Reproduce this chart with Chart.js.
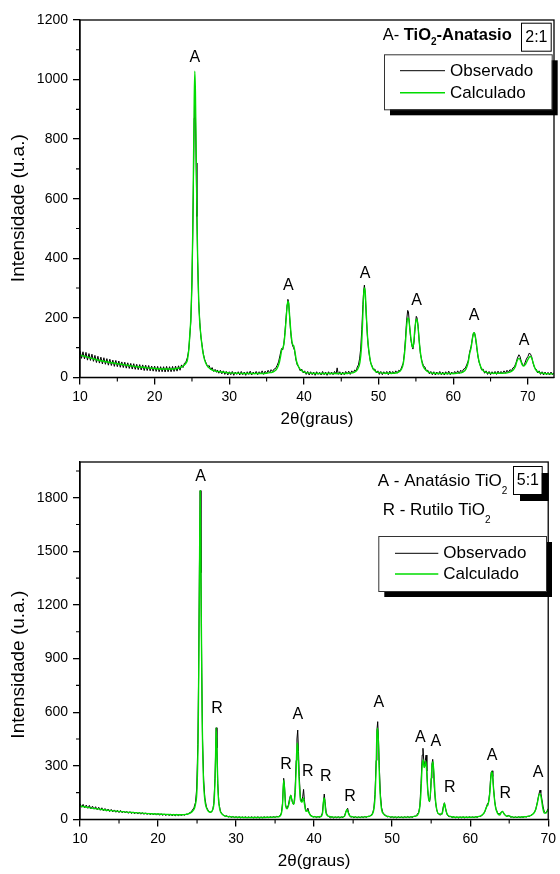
<!DOCTYPE html>
<html><head><meta charset="utf-8">
<script src="https://cdn.jsdelivr.net/npm/chart.js@4.4.1/dist/chart.umd.min.js"></script>
<style>
html,body{margin:0;padding:0;background:#fff;}
#wrap{position:relative;width:560px;height:874px;overflow:hidden;}
.box{position:absolute;left:0;width:560px;height:432px;}
</style></head><body>
<div id="wrap">
<div class="box" style="top:0"><canvas id="c1" width="560" height="432"></canvas></div>
<div class="box" style="top:442px"><canvas id="c2" width="560" height="432"></canvas></div>
</div>
<script>
// ---------- DATA: chart 1 (2:1) ----------
const topXTicks = [10,20,30,40,50,60,70];
const topXMinor = [15,25,35,45,55,65];
const topYTicks = [0,200,400,600,800,1000,1200];
const topYMinor = [100,300,500,700,900,1100];
const topXRange = [10,73.5];
const topYRange = [0,1200];

const topCalc = [[10,75],[11,68],[12,61],[13,55],[14,50],[15,46],[16,42],[17,38],[18,35],[19,32],[20,30],[21,28],[22,28],[23,30],[23.5,34],[24,42],[24.2,48],[24.4,60],[24.6,100],[24.7,140],[24.85,200],[25.0,330],[25.1,480],[25.2,700],[25.3,930],[25.38,1028],[25.46,960],[25.56,760],[25.66,560],[25.76,400],[25.9,260],[26.05,180],[26.2,140],[26.35,105],[26.5,80],[26.7,58],[27,40],[27.5,28],[28,22],[29,18],[30,15],[31,14],[32,13],[33,13],[34,13],[35,14],[35.5,16],[36,20],[36.4,30],[36.7,50],[36.9,75],[37.05,95],[37.2,100],[37.4,130],[37.6,190],[37.75,240],[37.85,255],[37.95,250],[38.1,200],[38.3,140],[38.5,110],[38.65,105],[38.8,85],[39,55],[39.3,35],[39.7,22],[40.2,16],[41,14],[42,13],[43,13],[44,13],[45,13],[46,14],[46.8,18],[47.2,28],[47.5,50],[47.7,100],[47.85,180],[47.95,250],[48.05,295],[48.15,300],[48.25,270],[48.4,190],[48.55,125],[48.7,90],[48.9,55],[49.2,32],[49.6,20],[50.2,16],[51,14],[52,14],[52.6,17],[53,25],[53.3,45],[53.55,100],[53.75,170],[53.9,200],[54.05,195],[54.2,160],[54.4,120],[54.55,100],[54.7,115],[54.85,160],[55.0,190],[55.12,195],[55.25,180],[55.45,120],[55.65,75],[55.9,42],[56.2,28],[56.7,18],[57.5,14],[59,13],[60.5,14],[61.3,18],[61.7,28],[62,50],[62.2,80],[62.4,100],[62.6,135],[62.75,150],[62.9,145],[63.1,115],[63.3,75],[63.55,45],[63.9,25],[64.5,16],[65.5,14],[66.5,14],[67.5,17],[68,24],[68.3,35],[68.55,55],[68.8,64],[69.0,58],[69.25,42],[69.45,38],[69.7,45],[70.0,60],[70.3,70],[70.5,66],[70.75,45],[71.0,28],[71.4,18],[72,14],[73,12],[73.5,12]];

const topObs = [[10,90],[10.2,64],[10.4,86],[10.6,62],[10.8,84],[11,58],[11.2,80],[11.4,57],[11.6,78],[11.8,54],[12,74],[12.2,50],[12.4,71],[12.6,48],[12.8,68],[13,45],[13.2,66],[13.4,44],[13.6,63],[13.8,41],[14,61],[14.2,40],[14.4,58],[14.6,37],[14.8,57],[15,36],[15.2,55],[15.4,34],[15.6,52],[15.8,33],[16,51],[16.2,31],[16.4,49],[16.6,30],[16.8,47],[17,28],[17.2,46],[17.4,27],[17.6,44],[17.8,26],[18,43],[18.2,25],[18.4,42],[18.6,23],[18.8,41],[19,23],[19.2,40],[19.4,22],[19.6,38],[19.8,21],[20,38],[20.2,20],[20.4,37],[20.6,19],[20.8,36],[21,19],[21.2,36],[21.4,18],[21.6,37],[21.8,19],[22,36],[22.2,19],[22.4,37],[22.6,20],[22.8,38],[23,21],[23.2,39],[23.4,24],[23.6,42],[23.8,33],[24,48],[24.2,52],[24.4,68],[24.55,90],[24.7,135],[24.85,190],[25.0,320],[25.1,470],[25.2,660],[25.3,870],[25.38,948],[25.46,900],[25.56,720],[25.66,540],[25.76,390],[25.9,255],[26.05,185],[26.2,135],[26.35,110],[26.5,82],[26.7,60],[26.9,48],[27.1,36],[27.3,40],[27.5,26],[27.7,33],[27.9,20],[28.1,27],[28.3,17],[28.4,25],[28.6,14],[28.8,24],[29,12],[29.2,22],[29.4,10],[29.6,20],[29.8,8],[30,19],[30.2,9],[30.4,20],[30.6,7],[30.8,18],[31,10],[31.2,19],[31.4,8],[31.6,20],[31.8,9],[32,18],[32.2,7],[32.4,19],[32.6,10],[32.8,21],[33,8],[33.2,18],[33.4,11],[33.6,20],[33.8,9],[34,19],[34.2,12],[34.4,22],[34.6,10],[34.8,21],[35,13],[35.2,24],[35.4,15],[35.6,26],[35.8,20],[36,28],[36.2,30],[36.4,40],[36.6,52],[36.8,75],[37.0,97],[37.15,92],[37.3,110],[37.45,150],[37.6,200],[37.75,245],[37.85,262],[37.95,250],[38.05,215],[38.2,160],[38.35,120],[38.5,105],[38.6,100],[38.75,90],[38.9,62],[39.1,42],[39.3,35],[39.5,22],[39.7,28],[39.9,15],[40.1,22],[40.3,10],[40.5,20],[40.7,8],[40.9,19],[41.1,9],[41.3,18],[41.5,7],[41.7,19],[41.9,10],[42.1,17],[42.3,8],[42.5,20],[42.7,9],[42.9,18],[43.1,7],[43.3,19],[43.5,10],[43.7,18],[43.9,9],[44.1,20],[44.3,11],[44.45,32],[44.6,10],[44.8,19],[45,8],[45.2,18],[45.4,9],[45.6,20],[45.8,11],[46,21],[46.2,10],[46.4,22],[46.6,15],[46.8,25],[47,22],[47.15,35],[47.3,42],[47.45,62],[47.6,95],[47.75,160],[47.9,245],[48.0,290],[48.1,310],[48.2,285],[48.35,205],[48.5,140],[48.65,95],[48.8,68],[48.95,48],[49.1,40],[49.3,26],[49.5,28],[49.7,15],[49.9,22],[50.1,10],[50.3,20],[50.5,9],[50.7,19],[50.9,11],[51.1,20],[51.3,9],[51.5,21],[51.7,11],[51.9,20],[52.1,12],[52.3,22],[52.5,14],[52.7,24],[52.9,22],[53.1,35],[53.3,48],[53.45,80],[53.6,130],[53.75,190],[53.9,225],[54.0,220],[54.15,175],[54.3,130],[54.45,108],[54.6,95],[54.75,118],[54.9,170],[55.05,205],[55.15,200],[55.3,170],[55.45,120],[55.6,80],[55.8,55],[56,40],[56.2,35],[56.4,22],[56.6,24],[56.8,12],[57,20],[57.2,9],[57.4,19],[57.6,8],[57.8,18],[58,10],[58.2,20],[58.4,9],[58.6,18],[58.8,8],[59,19],[59.2,10],[59.4,21],[59.6,9],[59.8,18],[60,11],[60.2,20],[60.4,12],[60.6,22],[60.8,13],[61,24],[61.2,19],[61.4,28],[61.6,30],[61.8,42],[62,55],[62.2,85],[62.4,105],[62.55,128],[62.7,148],[62.85,150],[63,130],[63.15,100],[63.3,72],[63.45,52],[63.6,42],[63.8,25],[64,28],[64.2,14],[64.4,22],[64.6,10],[64.8,20],[65,9],[65.2,19],[65.4,11],[65.6,20],[65.8,10],[66,21],[66.2,12],[66.4,20],[66.6,13],[66.8,22],[67,14],[67.2,24],[67.4,17],[67.6,26],[67.8,22],[68,32],[68.2,36],[68.4,48],[68.6,65],[68.8,76],[68.95,70],[69.1,55],[69.3,42],[69.45,40],[69.6,48],[69.8,62],[70.0,70],[70.2,82],[70.35,78],[70.5,70],[70.7,48],[70.9,32],[71.1,28],[71.3,15],[71.5,22],[71.7,10],[71.9,19],[72.1,8],[72.3,18],[72.5,9],[72.7,17],[72.9,8],[73.1,18],[73.3,9],[73.5,16]];

const topPeakText = ['A','A','A','A','A','A'];
const topPeakX = [25.4,37.9,48.2,55.1,62.8,69.5];
const topPeakY = [1075,309,350,259,208,124];

// ---------- DATA: chart 2 (5:1) ----------
const botXTicks = [10,20,30,40,50,60,70];
const botXMinor = [15,25,35,45,55,65];
const botYTicks = [0,300,600,900,1200,1500,1800];
const botYMinor = [150,450,750,1050,1350,1650,1950];
const botXRange = [10,70];
const botYRange = [0,2000];

const botCalc = [[10,75],[11,67],[12,60],[13,54],[14,49],[15,45],[16,41],[17,38],[18,35],[19,32],[20,30],[21,28],[22,26],[23,26],[23.6,28],[24.1,35],[24.5,50],[24.8,85],[25.0,180],[25.15,500],[25.3,1300],[25.4,1840],[25.5,1350],[25.65,600],[25.8,250],[26.0,110],[26.3,55],[26.7,40],[27.0,55],[27.2,110],[27.35,300],[27.45,513],[27.55,380],[27.7,150],[27.9,60],[28.2,30],[28.7,18],[29.5,14],[30.5,12],[31.5,11],[32.5,11],[33.5,11],[34.5,12],[35.3,14],[35.7,22],[35.95,80],[36.1,220],[36.2,180],[36.35,75],[36.55,60],[36.8,90],[37.0,135],[37.15,110],[37.35,85],[37.55,130],[37.7,280],[37.82,426],[37.92,400],[38.05,250],[38.25,110],[38.45,95],[38.62,120],[38.75,90],[38.95,45],[39.15,50],[39.3,40],[39.6,20],[40.2,14],[40.9,16],[41.1,40],[41.25,120],[41.35,110],[41.5,40],[41.8,18],[42.5,13],[43.5,13],[43.9,18],[44.1,45],[44.2,55],[44.35,40],[44.6,18],[45.5,13],[46.5,14],[47.2,20],[47.6,45],[47.8,120],[47.95,300],[48.05,480],[48.15,510],[48.25,420],[48.4,200],[48.6,70],[48.9,30],[49.3,18],[50.5,13],[52,13],[53,18],[53.4,35],[53.65,120],[53.85,300],[53.97,332],[54.1,290],[54.2,300],[54.32,326],[54.45,250],[54.6,140],[54.78,100],[54.95,170],[55.1,290],[55.22,323],[55.35,260],[55.5,140],[55.7,60],[56.0,30],[56.4,30],[56.6,75],[56.7,90],[56.85,60],[57.1,25],[57.6,15],[58.5,12],[59.5,12],[60.5,13],[61.3,18],[61.8,38],[62.1,70],[62.3,85],[62.5,140],[62.65,230],[62.75,267],[62.85,255],[63.0,170],[63.2,80],[63.5,35],[63.8,25],[64.0,40],[64.15,45],[64.35,30],[64.7,18],[65,20],[65.3,14],[66,13],[67,15],[67.8,22],[68.3,45],[68.6,90],[68.85,140],[68.97,142],[69.1,120],[69.3,65],[69.5,35],[69.7,35],[69.85,45],[70,58]];

const botObs = [[10,88],[10.2,68],[10.4,84],[10.6,65],[10.8,80],[11,62],[11.2,78],[11.4,59],[11.6,74],[11.8,57],[12,71],[12.2,54],[12.4,68],[12.6,51],[12.8,65],[13,48],[13.2,61],[13.4,46],[13.6,58],[13.8,44],[14,56],[14.2,42],[14.4,53],[14.6,40],[14.8,51],[15,38],[15.2,50],[15.4,37],[15.6,47],[15.8,36],[16,45],[16.2,34],[16.4,44],[16.6,33],[16.8,42],[17,31],[17.2,41],[17.4,30],[17.6,39],[17.8,29],[18,38],[18.2,28],[18.4,37],[18.6,27],[18.8,36],[19,26],[19.2,35],[19.4,25],[19.6,34],[19.8,24],[20,33],[20.2,23],[20.4,32],[20.6,22],[20.8,31],[21,21],[21.2,30],[21.4,21],[21.6,29],[21.8,20],[22,28],[22.2,20],[22.4,28],[22.6,21],[22.8,27],[23,22],[23.2,28],[23.4,23],[23.6,30],[23.8,28],[24,36],[24.2,40],[24.4,52],[24.6,65],[24.8,95],[24.95,170],[25.1,420],[25.2,800],[25.3,1400],[25.4,1840],[25.5,1380],[25.6,820],[25.7,450],[25.85,220],[26,120],[26.2,70],[26.4,52],[26.6,42],[26.8,40],[27,52],[27.15,90],[27.3,230],[27.45,513],[27.55,400],[27.65,200],[27.8,90],[28,45],[28.2,30],[28.4,24],[28.6,17],[28.8,21],[29,13],[29.2,18],[29.4,11],[29.6,16],[29.8,10],[30,15],[30.2,9],[30.4,15],[30.6,8],[30.8,14],[31,9],[31.2,15],[31.4,8],[31.6,14],[31.8,9],[32,15],[32.2,8],[32.4,14],[32.6,9],[32.8,15],[33,8],[33.2,14],[33.4,9],[33.6,15],[33.8,10],[34,14],[34.2,9],[34.4,15],[34.6,10],[34.8,16],[35,11],[35.2,17],[35.4,14],[35.6,20],[35.8,35],[35.95,90],[36.1,230],[36.2,190],[36.35,80],[36.5,60],[36.7,80],[36.85,115],[37.0,136],[37.1,120],[37.25,90],[37.4,85],[37.55,150],[37.7,330],[37.8,450],[37.9,500],[38.0,380],[38.1,240],[38.25,120],[38.4,100],[38.55,130],[38.65,168],[38.75,110],[38.9,55],[39.05,50],[39.2,63],[39.35,40],[39.5,25],[39.7,20],[39.9,13],[40.1,17],[40.3,10],[40.5,16],[40.7,11],[40.9,18],[41.05,35],[41.2,100],[41.3,142],[41.4,100],[41.55,40],[41.7,22],[41.9,15],[42.1,9],[42.3,15],[42.5,8],[42.7,14],[42.9,9],[43.1,15],[43.3,8],[43.5,14],[43.7,10],[43.9,20],[44.05,40],[44.2,55],[44.3,62],[44.4,40],[44.55,22],[44.7,12],[44.9,16],[45.1,9],[45.3,15],[45.5,8],[45.7,14],[45.9,9],[46.1,15],[46.3,10],[46.5,16],[46.7,11],[46.9,18],[47.1,16],[47.3,25],[47.5,35],[47.65,60],[47.8,140],[47.95,330],[48.05,500],[48.15,547],[48.25,450],[48.35,300],[48.5,140],[48.65,65],[48.8,40],[49,28],[49.2,22],[49.4,14],[49.6,18],[49.8,10],[50,15],[50.2,9],[50.4,14],[50.6,8],[50.8,15],[51,9],[51.2,14],[51.4,8],[51.6,15],[51.8,10],[52,16],[52.2,10],[52.4,15],[52.6,11],[52.8,18],[53,17],[53.2,28],[53.4,40],[53.55,75],[53.7,200],[53.85,360],[53.95,398],[54.05,330],[54.15,300],[54.25,330],[54.35,360],[54.45,270],[54.55,170],[54.7,110],[54.8,99],[54.9,130],[55.0,230],[55.1,310],[55.2,336],[55.3,290],[55.4,180],[55.55,100],[55.7,55],[55.85,35],[56.0,28],[56.2,24],[56.4,35],[56.55,70],[56.7,93],[56.8,70],[56.95,40],[57.1,22],[57.3,15],[57.5,17],[57.7,10],[57.9,15],[58.1,9],[58.3,14],[58.5,8],[58.7,14],[58.9,9],[59.1,15],[59.3,8],[59.5,14],[59.7,9],[59.9,15],[60.1,10],[60.3,14],[60.5,10],[60.7,15],[60.9,11],[61.1,17],[61.3,16],[61.5,22],[61.7,30],[61.9,45],[62.05,65],[62.2,86],[62.35,95],[62.5,150],[62.6,220],[62.7,265],[62.8,272],[62.9,240],[63.0,170],[63.15,100],[63.3,60],[63.5,38],[63.7,30],[63.9,35],[64.05,43],[64.15,45],[64.3,35],[64.5,22],[64.7,17],[64.9,22],[65.0,20],[65.2,12],[65.4,15],[65.6,9],[65.8,14],[66,9],[66.2,15],[66.4,10],[66.6,14],[66.8,11],[67,16],[67.2,13],[67.4,18],[67.6,17],[67.8,24],[68,28],[68.2,38],[68.4,55],[68.6,95],[68.8,140],[68.95,164],[69.05,150],[69.2,110],[69.35,70],[69.5,42],[69.65,38],[69.8,42],[69.9,50],[70,60]];

const botPeakText = ['A','R','R','A','R','R','R','A','A','A','R','A','R','A'];
const botPeakX = [25.45,27.55,36.4,37.9,39.2,41.5,44.6,48.3,53.6,55.6,57.4,62.8,64.5,68.7];
const botPeakY = [1920,622,304,585,267,239,127,654,460,435,179,355,146,261];

const seriesNames = ['Observado','Calculado'];
const xTitle = '2θ(graus)';
const yTitle = 'Intensidade (u.a.)';

// ---------- RENDERING ----------
const FONT = '"Liberation Sans", Arial, Helvetica, sans-serif';
const GREEN = '#00dc00';
Chart.defaults.font.family = FONT;
Chart.defaults.color = '#000';

const toXY = arr => arr.map(p => ({x: p[0], y: p[1]}));

function drawRuns(ctx, runs, x, y, size, subSize, subDy) {
  let cx = x;
  ctx.textAlign = 'left';
  ctx.textBaseline = 'middle';
  runs.forEach(r => {
    const fs = r.sub ? subSize : size;
    ctx.font = (r.bold ? 'bold ' : '') + fs + 'px ' + FONT;
    ctx.fillText(r.t, cx, r.sub ? y + subDy : y);
    cx += ctx.measureText(r.t).width;
  });
}

const decorPlugin = {
  id: 'decor',
  afterDraw(chart, args, o) {
    const ctx = chart.ctx, a = chart.chartArea;
    const xs = chart.scales.x, ys = chart.scales.y;
    ctx.save();
    // frame
    ctx.strokeStyle = '#000'; ctx.lineWidth = 1.3;
    ctx.strokeRect(a.left, a.top, a.right - a.left, a.bottom - a.top);
    // minor ticks
    ctx.lineWidth = 1.1;
    ctx.beginPath();
    o.xMinor.forEach(v => { const p = xs.getPixelForValue(v); ctx.moveTo(p, a.bottom); ctx.lineTo(p, a.bottom + 4); });
    o.yMinor.forEach(v => { const p = ys.getPixelForValue(v); ctx.moveTo(a.left, p); ctx.lineTo(a.left - 4, p); });
    ctx.stroke();
    // y axis title (rotated, offset along axis as in the original)
    ctx.save();
    ctx.translate(o.yTitleX, (a.top + a.bottom) / 2 + o.yTitleShift);
    ctx.rotate(-Math.PI / 2);
    ctx.fillStyle = '#000'; ctx.font = o.yTitleSize + 'px ' + FONT;
    ctx.textAlign = 'center'; ctx.textBaseline = 'middle';
    ctx.fillText(yTitle, 0, 0);
    ctx.restore();
    // peak labels
    ctx.fillStyle = '#000';
    ctx.font = '16px ' + FONT; ctx.textAlign = 'center'; ctx.textBaseline = 'middle';
    o.peakText.forEach((t, i) => ctx.fillText(t, xs.getPixelForValue(o.peakX[i]), ys.getPixelForValue(o.peakY[i])));
    // text notes
    o.notes.forEach(n => drawRuns(ctx, n.runs, n.x, n.y, n.size, n.subSize, n.subDy));
    // ratio box
    const b = o.ratio;
    if (b.shadow) { ctx.fillStyle = '#000'; ctx.fillRect(b.x + b.shadow, b.y + b.shadow, b.w, b.h); }
    ctx.fillStyle = '#fff'; ctx.fillRect(b.x, b.y, b.w, b.h);
    ctx.strokeStyle = '#000'; ctx.lineWidth = 1; ctx.strokeRect(b.x + 0.5, b.y + 0.5, b.w, b.h);
    ctx.fillStyle = '#000'; ctx.font = b.size + 'px ' + FONT; ctx.textAlign = 'center'; ctx.textBaseline = 'middle';
    ctx.fillText(b.text, b.x + b.w / 2 + 0.5, b.y + b.h / 2 + 1);
    // legend box
    const L = o.legend;
    ctx.fillStyle = '#000'; ctx.fillRect(L.x + L.shadow, L.y + L.shadow, L.w, L.h);
    ctx.fillStyle = '#fff'; ctx.fillRect(L.x, L.y, L.w, L.h);
    ctx.strokeStyle = '#333'; ctx.lineWidth = 1; ctx.strokeRect(L.x + 0.5, L.y + 0.5, L.w, L.h);
    chart.data.datasets.forEach((ds, i) => {
      const yy = L.y + L.rows[i];
      ctx.strokeStyle = ds.borderColor; ctx.lineWidth = ds.borderWidth;
      ctx.beginPath(); ctx.moveTo(L.x1, yy); ctx.lineTo(L.x2, yy); ctx.stroke();
      ctx.fillStyle = '#000'; ctx.font = L.size + 'px ' + FONT; ctx.textAlign = 'left'; ctx.textBaseline = 'middle';
      ctx.fillText(ds.label, L.tx, yy + 0.5);
    });
    ctx.restore();
  }
};

function makeChart(id, cfg) {
  const tickFont = {family: FONT, size: 14};
  const grid = {drawOnChartArea: false, drawTicks: true, tickLength: 7, color: '#000', lineWidth: 1.3};
  const border = {display: true, color: '#000', width: 1.3};
  return new Chart(document.getElementById(id), {
    type: 'line',
    data: {
      datasets: [
        {label: seriesNames[0], data: toXY(cfg.obs), borderColor: '#000', borderWidth: 1, pointRadius: 0, order: 2, tension: 0},
        {label: seriesNames[1], data: toXY(cfg.calc), borderColor: GREEN, borderWidth: 1.4, pointRadius: 0, order: 1, cubicInterpolationMode: 'monotone'}
      ]
    },
    options: {
      responsive: false, animation: false, devicePixelRatio: 1,
      layout: {padding: {top: 20, right: 6, bottom: 2, left: 0}},
      plugins: {legend: {display: false}, tooltip: {enabled: false}, decor: cfg.decor},
      scales: {
        x: {
          type: 'linear', min: cfg.xRange[0], max: cfg.xRange[1],
          afterBuildTicks: s => { s.ticks = cfg.xTicks.map(v => ({value: v})); },
          afterFit: s => { s.height = 52.6; },
          ticks: {font: tickFont, color: '#000', padding: 4, maxRotation: 0, autoSkip: false, callback: v => String(v)},
          grid: grid, border: border,
          title: {display: true, text: xTitle, font: {family: FONT, size: 17}, color: '#000', padding: {top: 0, bottom: 0}}
        },
        y: {
          type: 'linear', min: cfg.yRange[0], max: cfg.yRange[1],
          afterBuildTicks: s => { s.ticks = cfg.yTicks.map(v => ({value: v})); },
          afterFit: s => { s.width = 80; },
          ticks: {font: tickFont, color: '#000', padding: 5, autoSkip: false, callback: v => String(v)},
          grid: grid, border: border,
          title: {display: false}
        }
      }
    },
    plugins: [decorPlugin]
  });
}

makeChart('c1', {
  obs: topObs, calc: topCalc, xRange: topXRange, yRange: topYRange, xTicks: topXTicks, yTicks: topYTicks,
  decor: {
    xMinor: topXMinor, yMinor: topYMinor, peakText: topPeakText, peakX: topPeakX, peakY: topPeakY,
    yTitleX: 19, yTitleShift: 9.5, yTitleSize: 19,
    notes: [{runs: [{t: 'A- '}, {t: 'TiO', bold: true}, {t: '2', bold: true, sub: true}, {t: '-Anatasio', bold: true}], x: 382.7, y: 35, size: 16.5, subSize: 10, subDy: 7.5}],
    ratio: {text: '2:1', x: 521, y: 22.7, w: 29.7, h: 28, size: 16, shadow: 0},
    legend: {x: 384, y: 54.3, w: 167.7, h: 55, shadow: 6, rows: [16.4, 38.4], x1: 400, x2: 445, tx: 450, size: 17}
  }
});

makeChart('c2', {
  obs: botObs, calc: botCalc, xRange: botXRange, yRange: botYRange, xTicks: botXTicks, yTicks: botYTicks,
  decor: {
    xMinor: botXMinor, yMinor: botYMinor, peakText: botPeakText, peakX: botPeakX, peakY: botPeakY,
    yTitleX: 19, yTitleShift: 24, yTitleSize: 19,
    notes: [
      {runs: [{t: 'A - Anatásio TiO'}, {t: '2', sub: true}], x: 377.7, y: 39.7, size: 17, subSize: 10, subDy: 10},
      {runs: [{t: 'R - Rutilo TiO'}, {t: '2', sub: true}], x: 382.7, y: 68, size: 17, subSize: 10, subDy: 10}
    ],
    ratio: {text: '5:1', x: 513, y: 24, w: 28.7, h: 28, size: 16, shadow: 7},
    legend: {x: 378.3, y: 94, w: 167.7, h: 55, shadow: 6, rows: [17.3, 38], x1: 395, x2: 438.3, tx: 443.3, size: 17}
  }
});
</script>
</body></html>
